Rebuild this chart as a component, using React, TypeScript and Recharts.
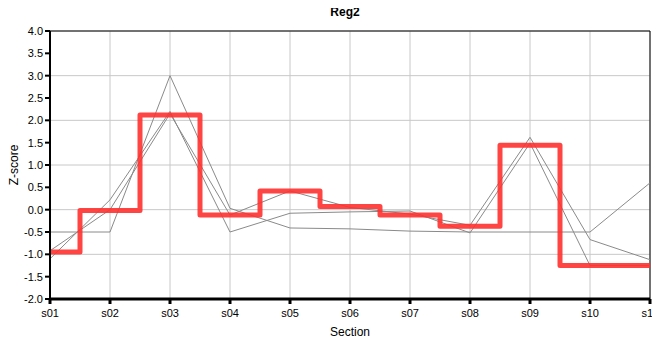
import { LineChart, Line, XAxis, YAxis, CartesianGrid, ReferenceLine } from 'recharts';

const sections = ['s01', 's02', 's03', 's04', 's05', 's06', 's07', 's08', 's09', 's10', 's11'];

// thick red step series
const reg2 = [-0.95, -0.02, 2.12, -0.12, 0.42, 0.07, -0.12, -0.37, 1.44, -1.25, -1.25];

// thin grey series
const greyA = [-1.1, 0.22, 2.2, -0.5, -0.08, -0.05, -0.03, -0.52, 1.49, -1.25, -1.25];
const greyB = [-0.92, 0.0, 2.15, -0.12, 0.42, 0.05, -0.1, -0.35, 1.62, -0.67, -1.12];
const greyC = [-0.5, -0.5, 3.0, 0.03, -0.41, -0.43, -0.48, -0.5, -0.5, -0.5, 0.6];

const yTicks = [-2, -1.5, -1, -0.5, 0, 0.5, 1, 1.5, 2, 2.5, 3, 3.5, 4];

const data = sections.map((s, i) => ({
  section: s,
  reg2: reg2[i],
  a: greyA[i],
  b: greyB[i],
  c: greyC[i],
}));

const font = 'Liberation Sans, Arial, sans-serif';

export default function App() {
  return (
    <div
      style={{
        position: 'relative',
        width: 660,
        height: 360,
        marginLeft: -8,
        marginTop: -8,
        fontFamily: font,
      }}
    >
      <LineChart
        width={660}
        height={360}
        data={data}
        margin={{ top: 31, right: 10, bottom: 0, left: 0 }}
      >
        <CartesianGrid stroke="#c8c8c8" strokeWidth={1} />
        <XAxis
          dataKey="section"
          height={61}
          stroke="#000"
          strokeWidth={3}
          tickSize={5}
          tickMargin={5}
          tick={{ fill: '#000', fontSize: 11, fontFamily: font }}
          interval={0}
        />
        <YAxis
          width={50}
          domain={[-2, 4]}
          ticks={yTicks}
          type="number"
          allowDataOverflow
          stroke="#000"
          strokeWidth={2}
          tickSize={5}
          tickMargin={2}
          tickFormatter={(v: number) => v.toFixed(1)}
          tick={{ fill: '#000', fontSize: 11, fontFamily: font }}
        />
        <ReferenceLine y={4} stroke="#000" strokeWidth={1} />
        <ReferenceLine x="s11" stroke="#000" strokeWidth={1} />
        <Line dataKey="a" type="linear" stroke="#8a8a8a" strokeWidth={1} dot={false} isAnimationActive={false} />
        <Line dataKey="b" type="linear" stroke="#8a8a8a" strokeWidth={1} dot={false} isAnimationActive={false} />
        <Line dataKey="c" type="linear" stroke="#8a8a8a" strokeWidth={1} dot={false} isAnimationActive={false} />
        <Line
          dataKey="reg2"
          type="step"
          stroke="#ff3030"
          strokeOpacity={0.9}
          strokeWidth={5}
          strokeLinejoin="round"
          dot={false}
          isAnimationActive={false}
        />
        <text x={345} y={16} textAnchor="middle" fontWeight="bold" fontSize={12} fontFamily={font} fill="#000">
          Reg2
        </text>
        <text
          x={18}
          y={165}
          textAnchor="middle"
          fontSize={12}
          fontFamily={font}
          fill="#000"
          transform="rotate(-90 18 165)"
        >
          Z-score
        </text>
        <text x={350} y={336} textAnchor="middle" fontSize={12} fontFamily={font} fill="#000">
          Section
        </text>
      </LineChart>
    </div>
  );
}
